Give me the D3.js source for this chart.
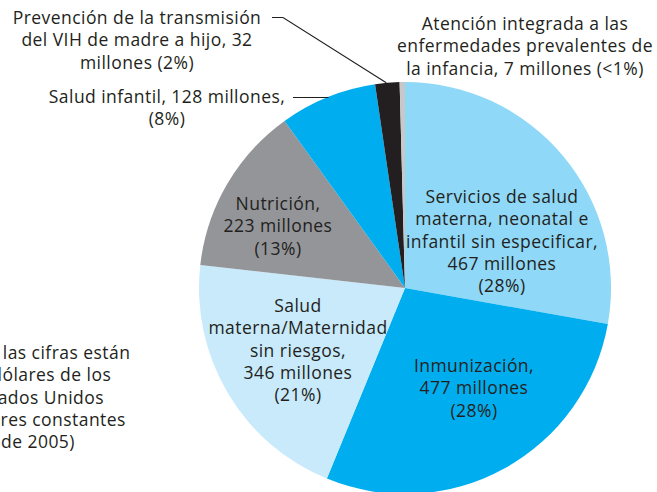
<!DOCTYPE html>
<html>
<head>
<meta charset="utf-8">
<script src="https://cdn.jsdelivr.net/npm/d3@7"></script>
<style>
  body { margin: 0; background: #fff; }
  svg text { font-family: "Open Sans", "Liberation Sans", Arial, sans-serif; font-size: 17.5px; letter-spacing: 0.45px; fill: #231f20; }
</style>
</head>
<body>
<div id="chart"></div>
<script>
// data, clockwise from 12 o'clock
const categories = [
  "Servicios de salud materna, neonatal e infantil sin especificar",
  "Inmunización",
  "Salud materna/Maternidad sin riesgos",
  "Nutrición",
  "Salud infantil",
  "Prevención de la transmisión del VIH de madre a hijo",
  "Atención integrada a las enfermedades prevalentes de la infancia"
];
const values = [467, 477, 346, 223, 128, 32, 7];
const colors = ["#8fd8f7", "#00aeef", "#c8eafb", "#939598", "#00aeef", "#231f20", "#c7c8ca"];

// label lines for each slice
const labelLines = [
  ["Servicios de salud", "materna, neonatal e", "infantil sin especificar,", "467 millones", "(28%)"],
  ["Inmunización,", "477 millones", "(28%)"],
  ["Salud", "materna/Maternidad", "sin riesgos,", "346 millones", "(21%)"],
  ["Nutrición,", "223 millones", "(13%)"],
  ["Salud infantil, 128 millones,", "(8%)"],
  ["Prevención de la transmisión", "del VIH de madre a hijo, 32", "millones (2%)"],
  ["Atención integrada a las", "enfermedades prevalentes de", "la infancia, 7 millones (<1%)"]
];
const noteLines = ["(Nota: las cifras están", "en dólares de los", "Estados Unidos", "a valores constantes", "de 2005)"];

const W = 657, H = 492;
const CX = 405, CY = 288, R = 206;
const LINE_H = 22.3;

const svg = d3.select("#chart").append("svg")
  .attr("width", W)
  .attr("height", H);

const pie = d3.pie().sort(null).value(d => d);
const arcs = pie(values);
const arc = d3.arc().innerRadius(0).outerRadius(R);

const g = svg.append("g").attr("transform", `translate(${CX},${CY})`);
g.selectAll("path")
  .data(arcs)
  .join("path")
  .attr("d", arc)
  .attr("fill", (d, i) => colors[i]);

// label anchor points: [x, first baseline]
const labelPos = [
  [502, 203],
  [474, 372],
  [298, 312],
  [278, 210],
  [167, 103],
  [137, 24],
  [525, 30]
];

function drawLines(x, y, lines, anchor) {
  const t = svg.append("text")
    .attr("text-anchor", anchor || "middle");
  lines.forEach((s, i) => {
    t.append("tspan").attr("x", x).attr("y", y + i * LINE_H).text(s);
  });
  return t;
}

labelLines.forEach((lines, i) => drawLines(labelPos[i][0], labelPos[i][1], lines));

// leader lines
const edge = (a) => [CX + R * Math.sin(a), CY - R * Math.cos(a)];
const vihMid = (arcs[5].startAngle + arcs[5].endAngle) / 2;
const vihEnd = edge(vihMid);
svg.append("path")
  .attr("d", d3.line()([[272, 17.5], [283, 17.5], [vihEnd[0] - 1, vihEnd[1]]]))
  .attr("fill", "none")
  .attr("stroke", "#231f20")
  .attr("stroke-width", 1.1);

const infY = 97.5;
const infX = CX - Math.sqrt(R * R - (CY - infY) * (CY - infY));
svg.append("line")
  .attr("x1", 293).attr("y1", infY)
  .attr("x2", infX + 2).attr("y2", infY)
  .attr("stroke", "#231f20")
  .attr("stroke-width", 1.1);

// note, partly cut off at the left edge as in the source
drawLines(38, 359, noteLines);
</script>
</body>
</html>
